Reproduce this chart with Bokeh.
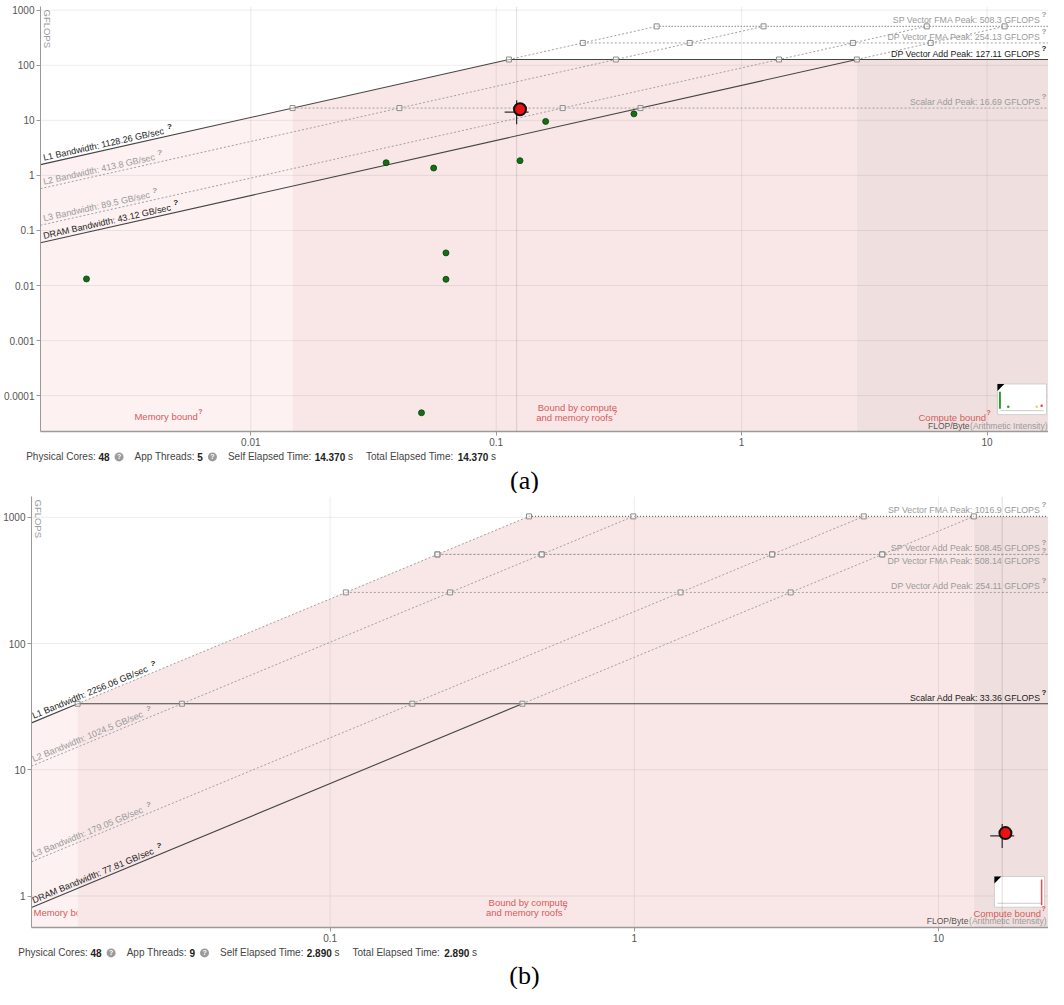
import math
from bokeh.plotting import figure
from bokeh.models import Range1d, FixedTicker, CustomJSTickFormatter, Span
from bokeh.embed import file_html
from bokeh.resources import INLINE
from bokeh.core.properties import value

FONT = value("Liberation Sans")
SERIF = value("Liberation Serif")

# ---------------- chart (a) data ----------------
A_BW_NAMES = ["L1 Bandwidth", "L2 Bandwidth", "L3 Bandwidth", "DRAM Bandwidth"]
A_BW_VALUES = [1128.26, 413.8, 89.5, 43.12]
A_BW_SOLID = [True, False, False, True]
A_PEAK_NAMES = ["SP Vector FMA Peak", "DP Vector FMA Peak", "DP Vector Add Peak", "Scalar Add Peak"]
A_PEAK_VALUES = [508.3, 254.13, 127.11, 16.69]
A_ACTIVE_PEAK = "DP Vector Add Peak"
A_SHADE_ROOF = 127.11
A_POINTS_X = [0.00214, 0.0356, 0.0496, 0.0556, 0.0624, 0.0624, 0.125, 0.159, 0.364]
A_POINTS_Y = [0.0132, 1.70, 4.9e-5, 1.36, 0.0392, 0.0130, 1.85, 9.55, 13.1]
A_SEL_X, A_SEL_Y = 0.1211, 14.04
A_DOT_X, A_DOT_Y = 0.125, 15.9
A_XLIM = (0.00139, 17.8)
A_YLIM = (2.24e-5, 1166.0)
A_XTICKS = [0.01, 0.1, 1, 10]
A_YTICKS = [0.0001, 0.001, 0.01, 0.1, 1, 10, 100, 1000]
A_CORES, A_THREADS, A_SELF, A_TOTAL = 48, 5, 14.370, 14.370

# ---------------- chart (b) data ----------------
B_BW_NAMES = ["L1 Bandwidth", "L2 Bandwidth", "L3 Bandwidth", "DRAM Bandwidth"]
B_BW_VALUES = [2256.06, 1024.5, 179.05, 77.81]
B_BW_SOLID = [True, False, False, True]
B_PEAK_NAMES = ["SP Vector FMA Peak", "SP Vector Add Peak", "DP Vector FMA Peak",
                "DP Vector Add Peak", "Scalar Add Peak"]
B_PEAK_VALUES = [1016.9, 508.45, 508.14, 254.11, 33.36]
B_ACTIVE_PEAK = "Scalar Add Peak"
B_SHADE_ROOF = 1016.9
B_POINTS_X = []
B_POINTS_Y = []
B_SEL_X, B_SEL_Y = 16.2, 2.99
B_DOT_X, B_DOT_Y = 16.6, 3.15
B_XLIM = (0.01043, 23.0)
B_YLIM = (0.563, 1462.0)
B_XTICKS = [0.1, 1, 10]
B_YTICKS = [1, 10, 100, 1000]
B_CORES, B_THREADS, B_SELF, B_TOTAL = 48, 9, 2.890, 2.890

# ---------------- helpers ----------------
WID = {'0': 556, '1': 556, '2': 556, '3': 556, '4': 556, '5': 556, '6': 556, '7': 556, '8': 556, '9': 556,
       '.': 278, ' ': 278, ':': 278, '/': 278, '?': 556, '(': 333, ')': 333,
       'A': 667, 'B': 667, 'C': 722, 'D': 722, 'E': 667, 'F': 611, 'G': 778, 'L': 556, 'M': 833,
       'O': 778, 'P': 667, 'R': 722, 'S': 667, 'T': 611, 'V': 667, 'I': 278,
       'a': 556, 'b': 556, 'c': 500, 'd': 556, 'e': 556, 'f': 278, 'g': 556, 'h': 556, 'i': 222,
       'k': 500, 'l': 222, 'm': 833, 'n': 556, 'o': 556, 'p': 556, 'r': 333, 's': 500, 't': 278,
       'u': 556, 'w': 722, 'y': 500, 'x': 500, 'v': 500, 'z': 500}


def tw(s, size):
    return sum(WID.get(ch, 556) for ch in s) * size / 1000.0


class Frame:
    def __init__(self, xlim, ylim, ref, fw, fh):
        self.lx0, self.lx1 = math.log10(xlim[0]), math.log10(xlim[1])
        self.ly0, self.ly1 = math.log10(ylim[0]), math.log10(ylim[1])
        self.L, self.R, self.T, self.B = ref
        self.ppx = fw / (self.lx1 - self.lx0)
        self.ppy = fh / (self.ly1 - self.ly0)
        self.angle = math.atan2(self.ppy, self.ppx)

    def X(self, rx):
        f = (rx - self.L) / (self.R - self.L)
        return 10 ** (self.lx0 + f * (self.lx1 - self.lx0))

    def Y(self, ry):
        f = (self.B - ry) / (self.B - self.T)
        return 10 ** (self.ly0 + f * (self.ly1 - self.ly0))


LIGHT = "#fdf1f1"
MID = "#f9e7e7"
DARK = "#f0dfdf"
RED = "#d45c5c"
SOLID = "#454545"
DOT = "#a0a0a0"
DOT_TOP = "#707070"


def txt(p, x, y, s, size="9px", color="#222", align="left", base="middle", bold=False,
        angle=0.0, dx=0.0, dy=0.0, font=FONT):
    p.text(x=[x], y=[y], text=[s], text_font=font, text_font_size=size, text_color=color,
           text_align=align, text_baseline=base, text_font_style="bold" if bold else "normal",
           angle=angle, x_offset=dx, y_offset=dy)


def build_panel(c):
    fw = 1048 - c["bl"]
    fh = c["h"] - c["bt"] - c["bb"]
    fr = Frame(c["xlim"], c["ylim"], c["ref"], fw, fh)
    x0, x1 = c["xlim"]
    y0, y1 = c["ylim"]
    p = figure(width=1048, height=c["h"], x_axis_type="log", y_axis_type="log",
               x_range=Range1d(x0, x1), y_range=Range1d(y0, y1),
               output_backend="svg", toolbar_location=None,
               min_border_left=c["bl"], min_border_right=0,
               min_border_top=c["bt"], min_border_bottom=c["bb"])
    p.outline_line_color = None
    p.background_fill_color = "white"
    p.border_fill_color = "white"
    p.xgrid.visible = False
    p.ygrid.visible = False
    p.xaxis.ticker = FixedTicker(ticks=c["xticks"])
    p.yaxis.ticker = FixedTicker(ticks=c["yticks"])
    for ax in (p.xaxis[0], p.yaxis[0]):
        ax.formatter = CustomJSTickFormatter(code="return tick.toString();")
        ax.axis_line_color = "#9a9a9a"
        ax.major_tick_line_color = "#9a9a9a"
        ax.major_tick_out = 4
        ax.major_tick_in = 0
        ax.minor_tick_line_color = None
        ax.major_label_text_font = "Liberation Sans"
        ax.major_label_text_font_size = "10px"
        ax.major_label_text_color = "#555555"
        ax.major_label_standoff = 2
    p.xaxis[0].axis_line_width = 1.5

    bws = c["bw_values"]
    L1 = max(bws)
    DRAM = min(bws)
    peaks = c["peak_values"]
    ptop = max(peaks)
    pscal = min(peaks)
    active = peaks[c["peak_names"].index(c["active"])]
    shade = c["shade"]
    ybot = y0 / 10.0
    mem_end = pscal / L1
    comp_start = shade / DRAM

    def poly(xa, xb):
        r = shade / L1
        pts = [xa] + ([r] if xa < r < xb else []) + [xb]
        xs = [xa] + pts + [xb]
        ys = [ybot] + [min(L1 * x, shade) for x in pts] + [ybot]
        return xs, ys

    xs, ys = poly(x0, mem_end)
    p.patch(xs, ys, fill_color=LIGHT, line_color=None)
    # memory-bound label (drawn before the middle region, which may cover it)
    m = c["mem"]
    txt(p, fr.X(m[1]), fr.Y(m[2]), "Memory bound", size="9.5px", color=RED, align=m[0])
    qx = m[1] + (tw("Memory bound", 9.5) / 2 if m[0] == "center" else tw("Memory bound", 9.5)) + 1
    txt(p, fr.X(qx), fr.Y(m[2] - 5), "?", size="7px", color=RED, bold=True)
    xs, ys = poly(mem_end, comp_start)
    p.patch(xs, ys, fill_color=MID, line_color=None)
    xs, ys = poly(comp_start, x1)
    p.patch(xs, ys, fill_color=DARK, line_color=None)

    # grid lines on top of the shaded regions
    gx = [[t, t] for t in c["xticks"]] + [[x0, x1] for t in c["yticks"]]
    gy = [[y0, y1] for t in c["xticks"]] + [[t, t] for t in c["yticks"]]
    p.multi_line(xs=gx, ys=gy, line_color="black", line_alpha=0.075, line_width=1)

    # selected point vertical guide
    p.add_layout(Span(location=c["sel"][0], dimension="height", line_color="black",
                      line_alpha=0.13, line_width=1))

    # bandwidth roofs
    for b, solid in zip(bws, c["bw_solid"]):
        r_act = active / b
        r_top = ptop / b
        if solid:
            p.line([x0, r_act], [b * x0, active], line_color=SOLID, line_width=1.1)
            p.line([r_act, r_top], [active, ptop], line_color=DOT, line_width=1, line_dash="2 2")
        else:
            p.line([x0, r_top], [b * x0, ptop], line_color=DOT, line_width=1, line_dash="2 2")
    # compute roofs
    for v in peaks:
        start = v / L1
        if v == active:
            p.line([start, x1], [v, v], line_color=SOLID, line_width=1.1)
        elif v == ptop:
            p.line([start, x1], [v, v], line_color=DOT_TOP, line_width=1.1, line_dash="1 2")
        else:
            p.line([start, x1], [v, v], line_color=DOT, line_width=1, line_dash="2 2")
    mx = [v / b for b in bws for v in peaks]
    my = [v for b in bws for v in peaks]
    keep = [i for i in range(len(mx)) if x0 < mx[i] < x1]
    p.scatter([mx[i] for i in keep], [my[i] for i in keep], marker="square", size=5,
              line_color="#8c8c8c", fill_color="white", fill_alpha=0.5, line_width=1)

    # bandwidth labels
    a = fr.angle
    xl = fr.X(fr.L + c["bwdx"])
    for name, b, solid in zip(c["bw_names"], bws, c["bw_solid"]):
        s = f"{name}: {b} GB/sec"
        col = "#222222" if solid else "#9a9a9a"
        txt(p, xl, b * xl, s, size="9px", color=col, base="bottom", angle=a, dy=-1)
        w = tw(s, 9)
        txt(p, xl, b * xl, "?", size="8px", color=col, base="bottom", bold=True,
            dx=w * math.cos(a) + 1.5, dy=-w * math.sin(a) - 6)

    # peak labels
    prev = None
    for name, v in zip(c["peak_names"], peaks):
        s = f"{name}: {v} GFLOPS"
        col = "#222222" if v == active else "#9a9a9a"
        below = prev is not None and prev / v < 1.05
        if below:
            txt(p, x1, v, s, size="8.8px", color=col, align="right", base="top", dx=-8, dy=2)
            txt(p, x1, v, "?", size="8px", color=col, align="left", base="bottom", bold=True,
                dx=-7, dy=1)
        else:
            txt(p, x1, v, s, size="8.8px", color=col, align="right", base="bottom", dx=-8, dy=-1)
            txt(p, x1, v, "?", size="8px", color=col, align="left", base="bottom", bold=True,
                dx=-7, dy=-7)
        prev = v

    # small overview thumbnail
    bx = c["thumb"]
    p.quad(left=[fr.X(bx[0])], right=[fr.X(bx[1])], top=[fr.Y(bx[2])], bottom=[fr.Y(bx[3])],
           fill_color="white", line_color="#cfcfcf", line_width=1)
    p.patch([fr.X(bx[0]), fr.X(bx[0] + 7), fr.X(bx[0])],
            [fr.Y(bx[2]), fr.Y(bx[2]), fr.Y(bx[2] + 7)], fill_color="black", line_color=None)
    p.line([fr.X(bx[0] + 3), fr.X(bx[1] - 3)], [fr.Y(bx[3] - 4), fr.Y(bx[3] - 4)],
           line_color="#cccccc", line_width=1)
    if c["thumb_kind"] == "a":
        p.line([fr.X(bx[0] + 2.5), fr.X(bx[0] + 2.5)], [fr.Y(bx[2] + 8), fr.Y(bx[3] - 6)],
               line_color="#2e9a2e", line_width=2)
        p.scatter([fr.X(bx[0] + 11), fr.X(bx[1] - 10), fr.X(bx[1] - 5)],
                  [fr.Y(bx[3] - 8), fr.Y(bx[3] - 8), fr.Y(bx[3] - 9)], size=2.5,
                  fill_color=["#2e9a2e", "#e6d64a", "#d44"], line_color=None)
    else:
        p.line([fr.X(bx[1] - 3), fr.X(bx[1] - 3)], [fr.Y(bx[2] + 3), fr.Y(bx[3] - 2)],
               line_color="#e05050", line_width=1.5)

    # region labels
    md = c["mid"]
    txt(p, fr.X(md[0]), fr.Y(md[1]), "Bound by compute", size="9.5px", color=RED, align="center")
    txt(p, fr.X(md[2]), fr.Y(md[3]), "and memory roofs", size="9.5px", color=RED, align="center")
    txt(p, fr.X(md[2] + tw("and memory roofs", 9.5) / 2 + 1), fr.Y(md[3] - 5), "?",
        size="7px", color=RED, bold=True)
    cb = c["comp"]
    txt(p, fr.X(cb[0]), fr.Y(cb[1]), "Compute bound", size="9.5px", color=RED, align="center")
    txt(p, fr.X(cb[0] + tw("Compute bound", 9.5) / 2 + 1), fr.Y(cb[1] - 5), "?",
        size="7px", color=RED, bold=True)
    fl = c["flop"]
    txt(p, fr.X(fl[0]), fr.Y(fl[1]), "(Arithmetic Intensity)", size="8.5px", color="#9a9a9a",
        align="right")
    txt(p, fr.X(fl[0] - tw("(Arithmetic Intensity)", 8.5) - 2), fr.Y(fl[1]), "FLOP/Byte",
        size="8.5px", color="#555555", align="right")
    # y axis title inside the frame
    txt(p, fr.X(fr.L + 7), y1, "GFLOPS", size="9.5px", color="#9a9a9a", align="left",
        base="middle", angle=-math.pi / 2, dy=3)

    # data points
    if c["px"]:
        p.scatter(c["px"], c["py"], size=6, fill_color="#127012", line_color="#0a3d0a", line_width=0.8)
    p.scatter([c["sel"][0]], [c["sel"][1]], marker="cross", size=24, line_color="#333333",
              line_width=1.2)
    p.scatter([c["dot"][0]], [c["dot"][1]], size=12, fill_color="#ee1111", line_color="#111111",
              line_width=2)
    return p


def build_footer(h, x_start, ty, items, caption, cap_y):
    f = figure(width=1048, height=h, x_range=Range1d(0, 1048), y_range=Range1d(0, h),
               output_backend="svg", toolbar_location=None,
               x_axis_location=None, y_axis_location=None,
               min_border_left=0, min_border_right=0, min_border_top=0, min_border_bottom=0)
    f.outline_line_color = None
    f.grid.visible = False
    x = x_start
    for kind, s in items:
        if kind == "icon":
            cx = x + 9.5
            f.scatter([cx], [ty], size=9, fill_color="#9a9a9a", line_color=None)
            txt(f, cx, ty, "?", size="7px", color="white", align="center", bold=True)
            x = cx + 15.5
        elif kind == "gap":
            x += 13
        else:
            bold = kind == "b"
            txt(f, x, ty, s.strip(), size="10px", color="#222222" if bold else "#444444", bold=bold,
                dx=tw(" ", 10) if s.startswith(" ") else 0)
            x += tw(s, 10)
    txt(f, 524, cap_y, caption, size="26px", color="black", align="center", font=SERIF)
    return f


def footer_items(cores, threads, self_t, total_t):
    return [("t", "Physical Cores: "), ("b", str(cores)), ("icon", ""),
            ("t", "App Threads: "), ("b", str(threads)), ("icon", ""),
            ("t", "Self Elapsed Time: "), ("b", f"{self_t:.3f}"), ("t", " s"), ("gap", ""),
            ("t", "Total Elapsed Time: "), ("b", f"{total_t:.3f}"), ("t", " s")]


cfg_a = dict(h=449, bl=37, bt=6, bb=18, xlim=A_XLIM, ylim=A_YLIM, ref=(37, 1064, 9, 438),
             xticks=A_XTICKS, yticks=A_YTICKS, bw_names=A_BW_NAMES, bw_values=A_BW_VALUES,
             bw_solid=A_BW_SOLID, peak_names=A_PEAK_NAMES, peak_values=A_PEAK_VALUES,
             active=A_ACTIVE_PEAK, shade=A_SHADE_ROOF, px=A_POINTS_X, py=A_POINTS_Y,
             sel=(A_SEL_X, A_SEL_Y), dot=(A_DOT_X, A_DOT_Y), bwdx=4,
             mem=("center", 165, 423), mid=(584, 414, 581, 424), comp=(966, 424),
             flop=(1063, 432), thumb=(1012, 1062, 390, 421), thumb_kind="a")

cfg_b = dict(h=452, bl=28, bt=3, bb=18, xlim=B_XLIM, ylim=B_YLIM, ref=(30, 1064, 504, 939.5),
             xticks=B_XTICKS, yticks=B_YTICKS, bw_names=B_BW_NAMES, bw_values=B_BW_VALUES,
             bw_solid=B_BW_SOLID, peak_names=B_PEAK_NAMES, peak_values=B_PEAK_VALUES,
             active=B_ACTIVE_PEAK, shade=B_SHADE_ROOF, px=B_POINTS_X, py=B_POINTS_Y,
             sel=(B_SEL_X, B_SEL_Y), dot=(B_DOT_X, B_DOT_Y), bwdx=3,
             mem=("left", 32, 924), mid=(535, 914, 531, 924), comp=(1022, 925),
             flop=(1062, 933), thumb=(1009, 1060, 888, 919), thumb_kind="b")

pA = build_panel(cfg_a)
fA = build_footer(44, 25.7, 36.6, footer_items(A_CORES, A_THREADS, A_SELF, A_TOTAL), "(a)", 13.5)
pB = build_panel(cfg_b)
fB = build_footer(44, 17.8, 36.6, footer_items(B_CORES, B_THREADS, B_SELF, B_TOTAL), "(b)", 14)

open("out.html", "w").write(file_html([pA, fA, pB, fB], INLINE))
